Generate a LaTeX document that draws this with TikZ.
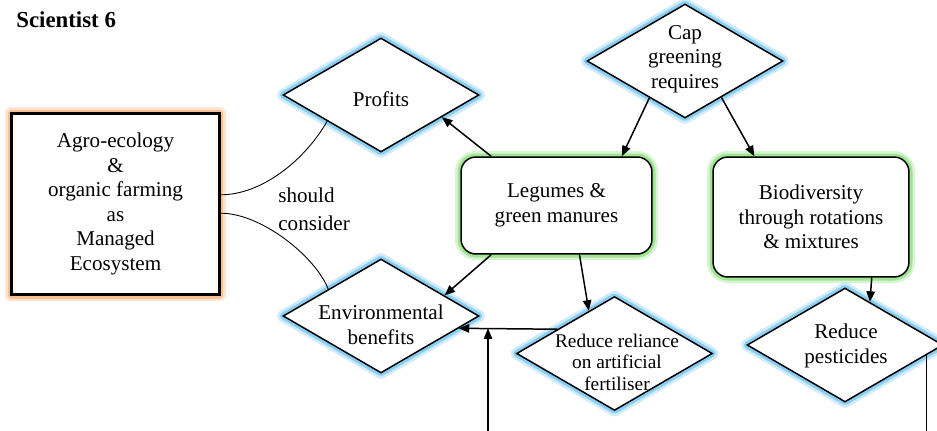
\documentclass[tikz,border=0pt]{standalone}
\usepackage{fontspec}
\setmainfont{Liberation Serif}
\usetikzlibrary{shapes.geometric,arrows.meta}
\definecolor{glowblue}{RGB}{100,190,240}
\definecolor{glowgreen}{RGB}{130,220,110}
\definecolor{gloworange}{RGB}{250,170,110}
\tikzset{
	glow/.style={preaction={draw=#1,line width=7pt,line join=round,opacity=0.3},preaction={draw=#1,line width=4pt,line join=round,opacity=0.65}},
	dia/.style={diamond,draw,line width=0.85pt,fill=white,glow=glowblue,minimum width=3.92cm,minimum height=2.28cm,inner sep=0pt},
	gbox/.style={rectangle,rounded corners=8.5pt,draw,line width=0.85pt,fill=white,glow=glowgreen,align=center},
	txt/.style={align=center,inner sep=0pt},
	link/.style={->,line width=0.85pt}
}
\begin{document}
\begin{tikzpicture}[x=0.02cm,y=-0.02cm,>={Stealth[length=6pt,width=4.8pt,inset=0pt]},font=\fontsize{12}{14}\selectfont]
	\useasboundingbox (0,0) rectangle (937,430);
	\node[anchor=base west,inner sep=0pt,font=\fontsize{13}{15}\selectfont\bfseries] (title) at (16,27) {Scientist 6};
	% boxes
	\node[draw,line width=1.7pt,fill=white,glow=gloworange,minimum width=4.16cm,minimum height=3.64cm,align=center] (agro) at (115.5,204) {Agro-ecology\\\&\\organic farming\\as\\Managed\\Ecosystem};
	\node[gbox,minimum width=3.82cm,minimum height=1.94cm] (leg) at (556.5,205.5) {Legumes \&\\green manures};
	\node[gbox,minimum width=3.92cm,minimum height=2.4cm] (bio) at (811,217) {Biodiversity\\through rotations\\\& mixtures};
	% diamonds
	\node[dia] (cap) at (685,61) {};
	\node[dia] (prof) at (381,95) {};
	\node[dia] (env) at (381,316) {};
	\node[dia] (rel) at (614.5,353.5) {};
	\node[dia] (pest) at (845,345) {};
	\node[txt] (cap-t) at (685,59) {Cap\\greening\\requires};
	\node[txt] (prof-t) at (381,99) {Profits};
	\node[txt] (env-t) at (381,325) {Environmental\\benefits};
	\node[txt,font=\fontsize{11}{12.2}\selectfont] (rel-t) at (617,362) {Reduce reliance\\on artificial\\fertiliser};
	\node[txt] (pest-t) at (846,346) {Reduce\\pesticides};
	\node[align=left,inner sep=0pt,anchor=west,font=\fontsize{12}{16}\selectfont] (sc) at (278,209) {should\\consider};
	% links
	\draw[line width=0.5pt] (agro.5.4) .. controls +(40,0) and +(-23,40) .. (prof.206);
	\draw[line width=0.5pt] (agro.-5.8) .. controls +(40,0) and +(-13,-33) .. (env.153);
	\draw[link] (cap.-134) -- (leg.37);
	\draw[link] (cap.-45) -- (bio.133);
	\draw[link] (leg.143) -- (prof.-20);
	\draw[link] (leg.217.5) -- (env.18);
	\draw[link] (leg.-65.6) -- (rel.121.5);
	\draw[link] (bio.-45.5) -- (pest.60);
	\draw[link] (rel.157.6) -- (env.-9.3);
	\coordinate (in1) at (488,440);
	\draw[link] (in1) -- (in1 |- env.-9.3);
	\coordinate (out1) at (926,440);
	\draw[line width=0.85pt] (pest.-7) -- (pest.-7 |- out1);
\end{tikzpicture}
\end{document}
